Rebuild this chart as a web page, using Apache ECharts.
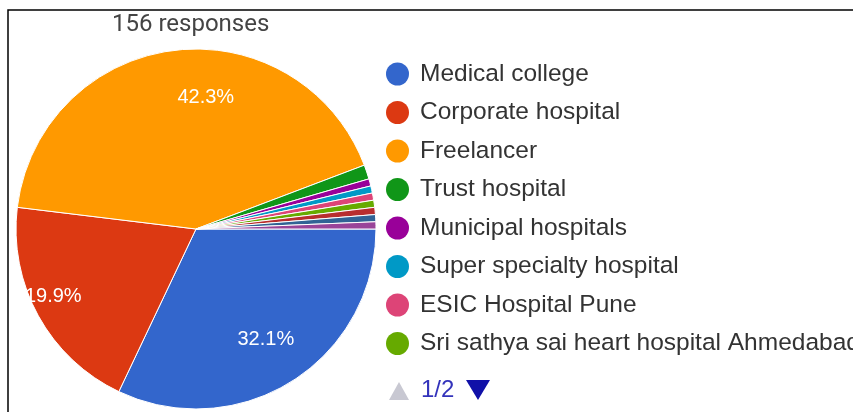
<!DOCTYPE html>
<html>
<head>
<meta charset="utf-8">
<script src="https://cdn.jsdelivr.net/npm/echarts@6/dist/echarts.min.js"></script>
<style>
  html, body { margin: 0; padding: 0; background: #fff; }
  #chart { width: 853px; height: 412px; }
</style>
</head>
<body>
<div id="chart"></div>
<script>
// Where respondents work (156 responses)
const titleText = '156 responses';
const categories = [
  'Medical college',
  'Corporate hospital',
  'Freelancer',
  'Trust hospital',
  'Municipal hospitals',
  'Super specialty hospital',
  'ESIC Hospital Pune',
  'Sri sathya sai heart hospital Ahmedabad',
  'Other hospital 1',
  'Other hospital 2',
  'Other hospital 3'
];
const responses = [50, 31, 66, 2, 1, 1, 1, 1, 1, 1, 1];
const sliceColors = [
  '#3366cc', '#dc3912', '#ff9900', '#109618', '#990099', '#0099c6',
  '#dd4477', '#66aa00', '#b82e2e', '#316395', '#994499'
];
const legendPageSize = 8;
const pageText = '1/2';

const total = responses.reduce((a, b) => a + b, 0);
const pieCenter = [196, 229];
const pieRadius = 180;
const labelFont = '"Liberation Sans", Arial, sans-serif';

// small nudges so the percentage labels sit where the slices have most room
const labelNudge = {
  'Medical college': [-2, -3],
  'Corporate hospital': [-25, 3],
  'Freelancer': [26, 2]
};

const pieData = categories.map((name, i) => ({ name, value: responses[i] }));
const labelData = categories.map((name, i) => ({
  name,
  value: responses[i],
  label: { offset: labelNudge[name] || [0, 0] }
}));

const chart = echarts.init(document.getElementById('chart'));
chart.setOption({
  animation: false,
  color: sliceColors,
  title: {
    text: titleText,
    left: 107,
    top: 8,
    textStyle: { fontFamily: 'Roboto, sans-serif', fontSize: 24, fontWeight: 'normal', color: '#444' }
  },
  legend: {
    orient: 'vertical',
    data: categories.slice(0, legendPageSize),
    left: 381,
    top: 56.5,
    icon: 'circle',
    itemWidth: 23,
    itemHeight: 23,
    itemGap: 13.5,
    itemStyle: { borderWidth: 0 },
    textStyle: {
      fontFamily: labelFont,
      fontSize: 24.5,
      lineHeight: 24,
      color: '#333',
      padding: [0, 0, 0, 6]
    }
  },
  graphic: [
    {
      type: 'polyline',
      shape: { points: [[8, 412], [8, 10], [853, 10]] },
      style: { stroke: '#000', lineWidth: 1.5, fill: null },
      silent: true
    },
    {
      // legend pager: previous (inactive), page text, next
      type: 'polygon',
      shape: { points: [[389, 400], [399, 382], [409, 400]] },
      style: { fill: '#c8c8d2' },
      silent: true
    },
    {
      type: 'text',
      left: 421,
      top: 378,
      style: { text: pageText, font: '24px ' + labelFont, fill: '#3333bb' },
      silent: true
    },
    {
      type: 'polygon',
      shape: { points: [[466, 380], [490, 380], [478, 400]] },
      style: { fill: '#1010a8' },
      silent: true
    }
  ],
  series: [
    {
      type: 'pie',
      center: pieCenter,
      radius: [0, pieRadius],
      startAngle: 0,
      clockwise: true,
      avoidLabelOverlap: false,
      data: pieData,
      itemStyle: { borderColor: '#fff', borderWidth: 1 },
      label: { show: false },
      labelLine: { show: false }
    },
    {
      // transparent ring that carries the percentage labels further out
      type: 'pie',
      center: pieCenter,
      radius: [pieRadius * 0.46, pieRadius],
      startAngle: 0,
      clockwise: true,
      avoidLabelOverlap: false,
      silent: true,
      data: labelData,
      itemStyle: { color: 'rgba(0,0,0,0)' },
      label: {
        show: true,
        position: 'inside',
        color: '#fff',
        fontFamily: labelFont,
        fontSize: 20,
        formatter: p => {
          const pct = p.value / total * 100;
          return pct >= 5 ? pct.toFixed(1) + '%' : '';
        }
      },
      labelLine: { show: false }
    }
  ]
});
</script>
</body>
</html>
